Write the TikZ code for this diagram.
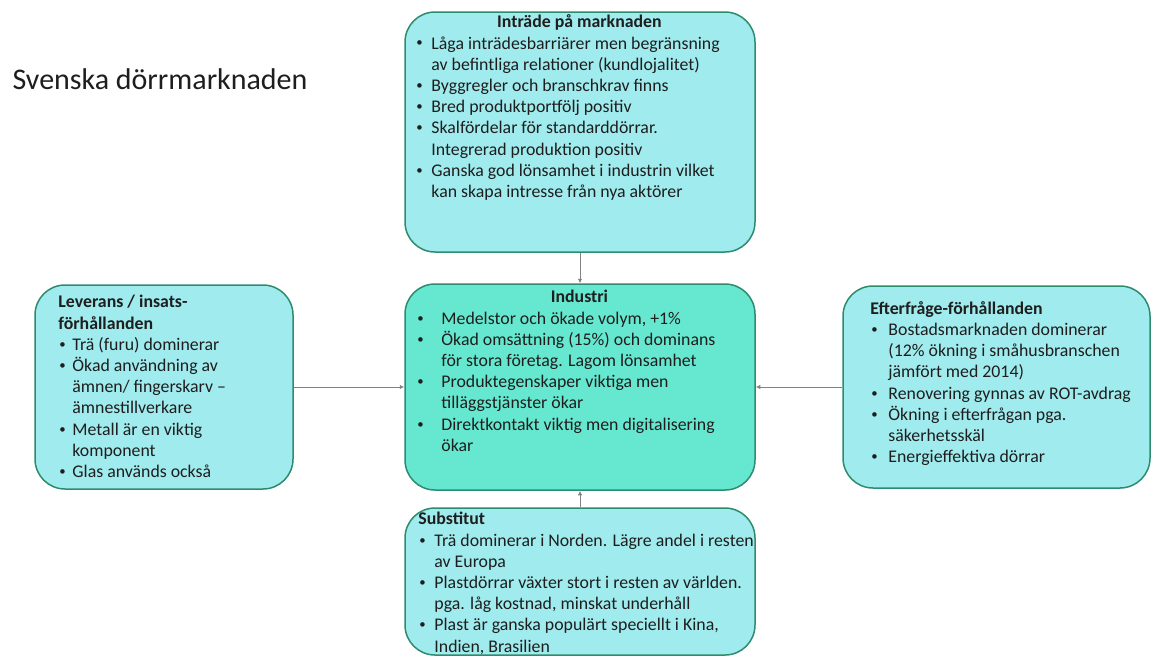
\documentclass[tikz,border=0pt]{standalone}
\usepackage{fontspec}
\setmainfont{Carlito}
\usetikzlibrary{positioning, arrows.meta}

\definecolor{panelfill}{RGB}{160,235,238}
\definecolor{corefill}{RGB}{102,232,208}
\definecolor{paneledge}{RGB}{45,140,110}
\definecolor{linkgray}{RGB}{130,130,130}
\definecolor{inktext}{RGB}{30,30,30}

\newlength{\bulind}
\newlength{\bulhang}
\newcommand{\bitem}[1]{\par\leftskip=\bulind\hangindent=\bulhang\hangafter=1\noindent\makebox[\bulhang][l]{\hspace{1pt}\raisebox{0.25ex}{\scalebox{0.72}{\textbullet}}}#1\par}

\tikzset{
  panel/.style={draw=paneledge, line width=1.5pt, fill=panelfill, rounded corners=30pt, inner sep=0pt},
  core/.style={panel, fill=corefill},
  paneltext/.style={anchor=north west, inner sep=0pt, text=inktext, font=\fontsize{17.8}{21.2}\selectfont},
  link/.style={draw=linkgray, line width=0.8pt, -{Latex[length=4.5pt,width=4.5pt]}}
}

\begin{document}
\begin{tikzpicture}[x=1pt, y=1pt]
\useasboundingbox (0,0) rectangle (1159,-657);

% title
\node[anchor=west, font=\fontsize{30}{36}\selectfont, text=inktext] (title) at (9,-79) {Svenska dörrmarknaden};

% Industri (centre)
\node[core, minimum width=350pt, minimum height=206pt] (industri) at (580,-387) {};
\node[paneltext] (industritext) at ([shift={(12,-7)}]industri.north west) {\parbox[t]{326pt}{%
  \setlength{\bulind}{0pt}\setlength{\bulhang}{25pt}\raggedright
  {\centering\bfseries Industri\par}
  \bitem{Medelstor och ökade volym, +1\%}
  \bitem{Ökad omsättning (15\%) och dominans\newline för stora företag. Lagom lönsamhet}
  \bitem{Produktegenskaper viktiga men\newline tilläggstjänster ökar}
  \bitem{Direktkontakt viktig men digitalisering\newline ökar}}};

% Inträde (top)
\node[panel, minimum width=350pt, minimum height=240pt] (intrade) at (580,-132) {};
\node[paneltext] (intradetext) at ([shift={(11,-3.5)}]intrade.north west) {\parbox[t]{328pt}{%
  \setlength{\bulind}{0pt}\setlength{\bulhang}{16pt}\raggedright
  {\centering\bfseries Inträde på marknaden\par}
  \bitem{Låga inträdesbarriärer men begränsning\newline av befintliga relationer (kundlojalitet)}
  \bitem{Byggregler och branschkrav finns}
  \bitem{Bred produktportfölj positiv}
  \bitem{Skalfördelar för standarddörrar.\newline Integrerad produktion positiv}
  \bitem{Ganska god lönsamhet i industrin vilket\newline kan skapa intresse från nya aktörer}}};

% Leverans (left)
\node[panel, minimum width=258pt, minimum height=204pt] (leverans) at (164,-387) {};
\node[paneltext] (leveranstext) at ([shift={(24,-11)}]leverans.north west) {\parbox[t]{230pt}{%
  \setlength{\bulind}{0pt}\setlength{\bulhang}{14pt}\raggedright
  {\bfseries Leverans / insats-\\förhållanden\par}
  \bitem{Trä (furu) dominerar}
  \bitem{Ökad användning av\newline ämnen/ fingerskarv –\newline ämnestillverkare}
  \bitem{Metall är en viktig\newline komponent}
  \bitem{Glas används också}}};

% Efterfraga (right)
\node[panel, minimum width=307pt, minimum height=202pt] (efterfraga) at (996.5,-387) {};
\node[paneltext] (efterfragatext) at ([shift={(28,-16)}]efterfraga.north west) {\parbox[t]{275pt}{%
  \setlength{\bulind}{0pt}\setlength{\bulhang}{18pt}\raggedright
  {\bfseries Efterfråge-förhållanden\par}
  \bitem{Bostadsmarknaden dominerar\newline (12\% ökning i småhusbranschen\newline jämfört med 2014)}
  \bitem{Renovering gynnas av ROT-avdrag}
  \bitem{Ökning i efterfrågan pga.\newline säkerhetsskäl}
  \bitem{Energieffektiva dörrar}}};

% Substitut (bottom)
\node[panel, minimum width=350pt, minimum height=147pt] (substitut) at (580,-581.5) {};
\node[paneltext] (substituttext) at ([shift={(14,-5)}]substitut.north west) {\parbox[t]{340pt}{%
  \setlength{\bulind}{0pt}\setlength{\bulhang}{16pt}\raggedright
  {\bfseries Substitut\par}
  \bitem{Trä dominerar i Norden. Lägre andel i resten\newline av Europa}
  \bitem{Plastdörrar växter stort i resten av världen.\newline pga. låg kostnad, minskat underhåll}
  \bitem{Plast är ganska populärt speciellt i Kina,\newline Indien, Brasilien}}};

% links into Industri
\draw[link] (intrade.south) -- (industri.north);
\draw[link] (leverans.east) -- (industri.west);
\draw[link] (efterfraga.west) -- (industri.east);
\draw[link] (substitut.north) -- (industri.south);
\end{tikzpicture}
\end{document}
